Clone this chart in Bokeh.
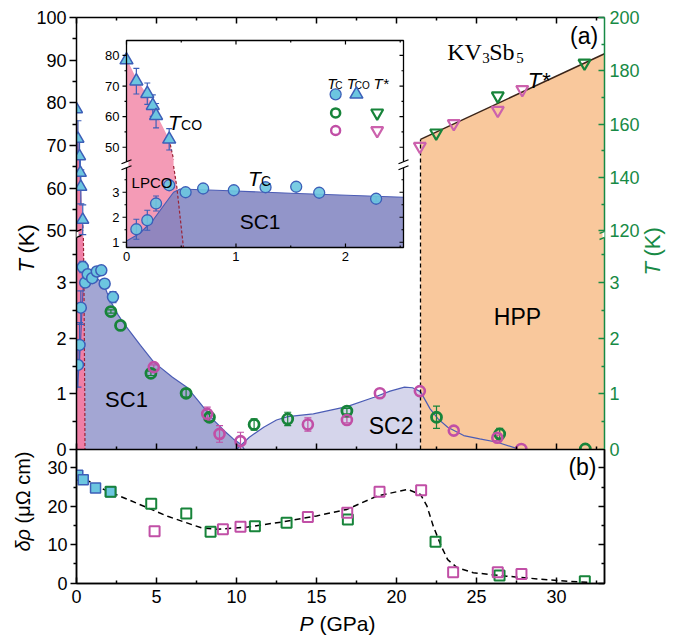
import numpy as np
from bokeh.plotting import figure
from bokeh.models import (Range1d, LinearAxis, FixedTicker, CustomJSTickFormatter,
                          CustomLabelingPolicy, Label, Arrow, Column)
from bokeh.core.properties import value
from bokeh.embed import file_html
from bokeh.resources import INLINE

FONT = "Liberation Sans"
SERIF = "Liberation Serif"

# ---------------- data ----------------
# Tc, sample 1 (cyan filled circles) - main panel and inset
P_TC1 = [0.09, 0.19, 0.27, 0.39, 0.54, 0.70, 0.98, 1.27, 1.55, 1.76, 2.28]
TC1 = [1.52, 1.88, 2.55, 3.28, 3.00, 3.15, 3.08, 3.20, 3.22, 2.98, 2.74]
TC1_ERR = [0.40, 0.40, 0.30, 0.10, 0, 0, 0, 0, 0, 0, 0.10]
# T_CO, sample 1 (cyan up-triangles)
P_TCO = [0.00, 0.09, 0.19, 0.24, 0.27, 0.39]
TCO = [78.5, 71.6, 67.5, 63.6, 60.3, 52.6]
TCO_ERR = [0, 4.2, 3.5, 3.5, 4.0, 3.5]
# Tc, sample 2 (green open circles)
P_TC2 = [2.15, 2.75, 4.65, 6.85, 8.31, 11.1, 13.2, 16.9, 22.5, 26.45, 31.8]
TC2 = [2.48, 2.23, 1.37, 1.01, 0.58, 0.45, 0.55, 0.69, 0.58, 0.28, 0.01]
TC2_ERR = [0.03, 0, 0.04, 0.07, 0.06, 0.10, 0.12, 0.05, 0.20, 0.10, 0]
# Tc, sample 3 (magenta open circles)
P_TC3 = [4.83, 8.17, 8.94, 10.25, 14.46, 16.9, 18.96, 21.46, 23.58, 26.3, 27.8]
TC3 = [1.48, 0.64, 0.28, 0.15, 0.45, 0.53, 1.01, 1.05, 0.34, 0.21, 0.01]
TC3_ERR = [0.04, 0.12, 0.15, 0.16, 0.12, 0.05, 0, 0, 0, 0.05, 0]
# T* (right axis), samples 2 and 3
P_TS2 = [22.48, 26.33, 31.75]
TS2 = [156.7, 170.6, 182.9]
P_TS3 = [21.46, 23.58, 26.33, 27.86]
TS3 = [151.7, 160.2, 165.2, 173.0]
P_TS_LINE = [21.5, 33.0]
TS_LINE = [154.3, 186.4]
P_HPP = 21.5
# phase boundaries (main panel)
SC1_P = [0.0, 0.12, 0.24, 0.35, 0.43, 0.50, 0.9, 1.4, 1.8, 2.1, 2.6, 3.0, 4.0, 4.83,
         6.0, 6.9, 7.6, 8.6, 9.3, 9.8, 10.25, 10.5]
SC1_T = [1.05, 1.35, 1.87, 2.53, 3.0, 3.13, 3.10, 3.05, 2.90, 2.68, 2.42, 2.25, 1.87, 1.57,
         1.30, 1.12, 0.88, 0.52, 0.32, 0.19, 0.10, 0.0]
SC2_P = [10.0, 10.8, 11.7, 12.5, 13.2, 14.8, 16.9, 18.6, 19.6, 20.5, 21.0, 21.5, 22.1,
         22.6, 23.2, 24.2, 25.2, 26.3, 27.5]
SC2_T = [0.0, 0.22, 0.40, 0.53, 0.59, 0.64, 0.77, 0.94, 1.05, 1.12, 1.11, 1.04, 0.73,
         0.55, 0.40, 0.25, 0.19, 0.13, 0.02]
LPCO_UP_P = [0.0, 0.09, 0.19, 0.27, 0.39, 0.43]
LPCO_UP_T = [79.0, 72.5, 67.0, 61.0, 52.5, 46.0]
LPCO_LOW_P = [0.43, 0.46, 0.49, 0.52, 0.53]
LPCO_LOW_T = [4.10, 3.20, 2.00, 0.80, 0.00]
# inset SC1 boundary
SC1I_P = [0.0, 0.12, 0.24, 0.35, 0.43, 0.49, 0.88, 1.5, 2.53]
SC1I_T = [1.05, 1.35, 1.87, 2.53, 3.00, 3.13, 3.07, 2.96, 2.80]
# panel (b): residual resistivity
P_DR1 = [0.08, 0.42, 1.19, 2.13]
DR1 = [28.1, 26.9, 24.8, 23.8]
P_DR2 = [2.13, 4.67, 6.86, 8.38, 11.15, 13.13, 16.96, 22.44, 26.44, 31.77]
DR2 = [23.8, 20.7, 18.1, 13.4, 14.8, 15.7, 16.6, 10.8, 2.0, 0.5]
P_DR3 = [4.88, 9.15, 10.25, 14.46, 16.92, 18.94, 21.54, 23.54, 26.33, 27.81]
DR3 = [13.5, 14.0, 14.7, 17.2, 18.3, 23.8, 24.2, 2.8, 2.8, 2.4]
GUIDE_P = [0.0, 1.7, 3.2, 5.7, 7.8, 8.8, 10.7, 12.8, 15.0, 16.9, 18.8, 20.7, 21.5, 21.9,
           22.3, 22.8, 23.2, 23.8, 24.8, 26.9, 28.8, 30.7, 32.1]
GUIDE_D = [28.3, 24.4, 21.8, 17.4, 14.4, 14.0, 14.6, 15.9, 17.5, 19.2, 22.7, 24.4, 23.1,
           20.1, 14.8, 9.6, 6.1, 4.0, 2.7, 1.8, 1.1, 0.5, 0.2]

# tick values
X_MAJOR = [0, 5, 10, 15, 20, 25, 30]
X_MINOR = [2.5, 7.5, 12.5, 17.5, 22.5, 27.5, 32.5]
T_LOW = [0, 1, 2, 3]
T_LOW_MINOR = [0.5, 1.5, 2.5, 3.5]
T_UP = [50, 60, 70, 80, 90, 100]
T_UP_MINOR = [55, 65, 75, 85, 95]
TS_UP = [120, 140, 160, 180, 200]
TS_UP_MINOR = [130, 150, 170, 190]
DR_MAJOR = [0, 10, 20, 30]
DR_MINOR = [5, 15, 25]
I_X = [0, 1, 2]
I_X_MINOR = [0.5, 1.5, 2.5]
I_T_LOW = [1, 2, 3]
I_T_LOW_MINOR = [1.5, 2.5, 3.5]
I_T_UP = [50, 60, 70, 80]
I_T_UP_MINOR = [45, 55, 65, 75]

# colours
CYAN, CYAN_EDGE = "#6cc6e0", "#3d5fb8"
GREEN = "#17843a"
MAGENTA = "#c14fa6"
MAG_TRI = "#cc62ad"
AX_GREEN = "#178a45"
C_SC1, C_SC2, C_HPP, C_PINK = "#a3a6d3", "#d5d5eb", "#f9c89c", "#f07fa6"
C_SC1_IN, C_PINK_IN = "#7f82c0", "#f49bb6"
C_LINE = "#4b5cb5"
C_TCO_LINE = "#9b2335"

# ---------------- layout constants (pixels) ----------------
W_PAGE, H_PAGE = 683, 637
FRAME_W, FRAME_HA, FRAME_HB = 528, 432, 134
B_LEFT, B_RIGHT, B_TOP = 76, 75, 17
OVERLAP = 10

# ---------------- broken-axis mappings ----------------
LOW_TOP = 3.80      # top of the lower (0-3.8 K) segment, main panel
U50 = 3.93          # position of 50 K on the main axis
K_UP = 0.0767       # units per K in the upper segment
U_TOP = U50 + 50 * K_UP
PX_U = FRAME_HA / U_TOP
PX_P = FRAME_W / 33.0


def um(T):
    T = np.asarray(T, dtype=float)
    return np.where(T < 20.0, T, U50 + (T - 50.0) * K_UP)


def us(Ts):
    return U50 + (np.asarray(Ts, dtype=float) - 120.0) * K_UP / 1.6


I_BOT, I_LOW_TOP, I_V50, I_K = 0.79, 4.05, 4.80, 0.1224
I_TOP = 9.07
I_XMAX = 2.53


def vi(T):
    T = np.asarray(T, dtype=float)
    return np.where(T < 20.0, T, I_V50 + (T - 50.0) * I_K)


def fmt(vals, labs):
    return CustomJSTickFormatter(
        args=dict(vals=[float(v) for v in vals], labs=[str(l) for l in labs]),
        code="for (let i = 0; i < vals.length; i++) { if (Math.abs(tick - vals[i]) < 1e-6) { return labs[i]; } } return '';")


def axis(ticks, minor, labels=None, color="black", fs="18px", t_in=0, t_out=6,
         m_in=0, m_out=3, standoff=4, lw=1.5):
    ax = LinearAxis(ticker=FixedTicker(ticks=[float(t) for t in ticks],
                                       minor_ticks=[float(t) for t in minor]))
    ax.axis_line_color = color
    ax.axis_line_width = lw
    ax.major_tick_line_color = color
    ax.minor_tick_line_color = color
    ax.major_tick_line_width = lw
    ax.minor_tick_line_width = lw
    ax.major_tick_in, ax.major_tick_out = t_in, t_out
    ax.minor_tick_in, ax.minor_tick_out = m_in, m_out
    ax.major_label_text_font = FONT
    ax.major_label_text_color = color
    if labels is not None:
        ax.formatter = fmt(ticks, labels)
        ax.major_label_text_font_size = fs
        ax.major_label_standoff = standoff
    else:
        ax.major_label_policy = CustomLabelingPolicy(code="")
        ax.major_label_text_font_size = "0px"
        ax.major_label_standoff = 0
    return ax


def lab(p, x, y, text, size, style="normal", color="black", font=FONT, align="left",
        baseline="alphabetic", angle=0.0, xoff=0):
    p.add_layout(Label(x=x, y=y, text=text, text_font=font, text_font_size=f"{size}px",
                       text_font_style=style, text_color=color, text_align=align,
                       text_baseline=baseline, angle=angle, x_offset=xoff))


def errbars(p, x, y, err, ymap, color, cap=7, lw=1.2):
    x = np.asarray(x, float)
    y = np.asarray(y, float)
    e = np.asarray(err, float)
    m = e > 0
    lo, hi = ymap(y[m] - e[m]), ymap(y[m] + e[m])
    p.segment(x0=x[m], y0=lo, x1=x[m], y1=hi, line_color=color, line_width=lw)
    p.scatter(x=np.r_[x[m], x[m]], y=np.r_[lo, hi], marker="dash", size=cap,
              line_color=color, line_width=lw)


def add_break(p, xc, yc, dx, rise, sep, color, lw=1.4):
    p.add_layout(Arrow(end=None, x_start=xc, y_start=yc - sep, x_end=xc, y_end=yc + sep,
                       line_color="white", line_width=4))
    for s in (-1, 1):
        p.add_layout(Arrow(end=None, x_start=xc - dx, y_start=yc + s * sep - rise,
                           x_end=xc + dx, y_end=yc + s * sep + rise,
                           line_color=color, line_width=lw))


# ======================= panel (a) =======================
p_a = figure(frame_width=FRAME_W, frame_height=FRAME_HA, x_range=Range1d(0, 33),
             y_range=Range1d(0, U_TOP), output_backend="svg", toolbar_location=None,
             x_axis_location=None, y_axis_location=None, title=None,
             min_border_left=B_LEFT, min_border_right=B_RIGHT, min_border_top=B_TOP,
             min_border_bottom=OVERLAP)
p_a.grid.visible = False
p_a.outline_line_color = None

left_ticks = list(T_LOW) + list(um(T_UP))
left_minor = list(T_LOW_MINOR) + list(um(T_UP_MINOR))
p_a.add_layout(axis(left_ticks, left_minor, labels=[str(t) for t in T_LOW + T_UP],
                    t_out=7, m_out=4, standoff=3), "left")
right_ticks = list(T_LOW) + list(us(TS_UP))
right_minor = list(T_LOW_MINOR) + list(us(TS_UP_MINOR))
p_a.add_layout(axis(right_ticks, right_minor, labels=[str(t) for t in T_LOW + TS_UP],
                    color=AX_GREEN, t_in=6, t_out=0, m_in=3, m_out=0, standoff=5), "right")
p_a.add_layout(axis(X_MAJOR, X_MINOR, t_in=6, t_out=0, m_in=3, m_out=0), "above")
p_a.add_layout(axis(X_MAJOR, X_MINOR, t_in=6, t_out=0, m_in=3, m_out=0), "below")

# fills
p_a.patch(SC1_P + [0.0], list(um(SC1_T)) + [0.0], fill_color=C_SC1, line_color=None)
sc2p = np.asarray(SC2_P)
sc2t = np.asarray(SC2_T)
keep = sc2p < P_HPP
t_edge = float(np.interp(P_HPP, sc2p, sc2t))
p_a.patch(list(sc2p[keep]) + [P_HPP, P_HPP], list(sc2t[keep]) + [t_edge, 0.0],
          fill_color=C_SC2, line_color=None)
p_a.patch([P_TS_LINE[0], P_TS_LINE[0], P_TS_LINE[1], P_TS_LINE[1]],
          [0.0, float(us(TS_LINE[0])), float(us(TS_LINE[1])), 0.0],
          fill_color=C_HPP, line_color=None)
up_p = np.asarray(LPCO_UP_P)
up_t = np.asarray(LPCO_UP_T)
p50 = float(np.interp(50.0, up_t[::-1], up_p[::-1]))
sel = up_t >= 50
low_p = np.asarray(LPCO_LOW_P)
low_t = np.minimum(np.asarray(LPCO_LOW_T), LOW_TOP)
p_a.patch([0.0] + list(up_p[sel]) + [p50] + list(low_p),
          [0.0] + list(um(up_t[sel])) + [U50] + list(low_t),
          fill_color=C_PINK, line_color=None)

# boundary lines
p_a.line(SC1_P, um(SC1_T), line_color=C_LINE, line_width=1.2)
p_a.line(SC2_P, SC2_T, line_color=C_LINE, line_width=1.2)
p_a.line(P_TS_LINE, us(TS_LINE), line_color="#3b2418", line_width=1.5)
p_a.line([P_HPP, P_HPP], [0.0, float(us(TS_LINE[0]))], line_color="black",
         line_width=1.3, line_dash="4 3")
p_a.line(list(up_p[-2:-1]) + [p50], list(um(up_t[-2:-1])) + [U50],
         line_color=C_TCO_LINE, line_width=1.2, line_dash="3 2")
p_a.line(low_p, low_t, line_color=C_TCO_LINE, line_width=1.2, line_dash="3 2")

# error bars
errbars(p_a, P_TC1, TC1, TC1_ERR, um, CYAN_EDGE)
errbars(p_a, P_TCO, TCO, TCO_ERR, um, CYAN_EDGE)
errbars(p_a, P_TC2, TC2, TC2_ERR, um, GREEN)
errbars(p_a, P_TC3, TC3, TC3_ERR, um, MAGENTA)

# markers
p_a.scatter(P_TC1, um(TC1), marker="circle", size=11, fill_color=CYAN,
            line_color=CYAN_EDGE, line_width=1.5)
p_a.scatter(P_TCO, um(TCO), marker="triangle", size=12, fill_color=CYAN,
            line_color=CYAN_EDGE, line_width=1.5)
p_a.scatter(P_TC2, um(TC2), marker="circle", size=10, fill_color=None,
            line_color=GREEN, line_width=2.8)
p_a.scatter(P_TC3, um(TC3), marker="circle", size=10, fill_color=None,
            line_color=MAGENTA, line_width=2.6)
p_a.scatter(P_TS2, us(TS2), marker="inverted_triangle", size=12, fill_color=None,
            line_color=GREEN, line_width=2.2)
p_a.scatter(P_TS3, us(TS3), marker="inverted_triangle", size=12, fill_color=None,
            line_color=MAG_TRI, line_width=2.2)

# axis breaks
add_break(p_a, 0.0, (LOW_TOP + U50) / 2, 0.31, 0.036, 0.054, "black")
add_break(p_a, 33.0, (LOW_TOP + U50) / 2, 0.31, 0.036, 0.054, AX_GREEN)

# texts panel (a)
lab(p_a, 23.17, 7.15, "KV", 24, font=SERIF)
lab(p_a, 23.17, 7.03, "3", 15, font=SERIF, xoff=35)
lab(p_a, 23.17, 7.15, "Sb", 24, font=SERIF, xoff=42)
lab(p_a, 23.17, 7.03, "5", 15, font=SERIF, xoff=69)
lab(p_a, 32.6, 7.43, "(a)", 23, align="right", baseline="middle")
lab(p_a, 28.2, 6.64, "T*", 22, style="italic")
lab(p_a, 27.56, 2.39, "HPP", 23, align="center", baseline="middle")
lab(p_a, 3.125, 0.90, "SC1", 22, align="center", baseline="middle")
lab(p_a, 19.66, 0.43, "SC2", 23, align="center", baseline="middle")

# ======================= inset (sub-coordinates inside panel a) =======================
IN_L, IN_R = (126 - B_LEFT) / PX_P, (403 - B_LEFT) / PX_P
IN_B, IN_T = (B_TOP + FRAME_HA - 247) / PX_U, (B_TOP + FRAME_HA - 40) / PX_U
ins = p_a.subplot(x_source=Range1d(0, I_XMAX), y_source=Range1d(I_BOT, I_TOP),
                  x_target=Range1d(IN_L, IN_R), y_target=Range1d(IN_B, IN_T))
IPX_X = (403 - 126) / I_XMAX
IPX_Y = (247 - 40) / (I_TOP - I_BOT)

ins.quad(left=[0.0], right=[I_XMAX], bottom=[I_BOT], top=[I_TOP], fill_color="white",
         line_color=None)
ilow_t = np.clip(np.asarray(LPCO_LOW_T), I_BOT, I_LOW_TOP)
ins.patch([0.0] + LPCO_UP_P + LPCO_LOW_P + [0.0],
          [float(vi(LPCO_UP_T[0]))] + list(vi(LPCO_UP_T)) + list(ilow_t) + [I_BOT],
          fill_color=C_PINK_IN, line_color=None)
ins.patch(SC1I_P + [SC1I_P[-1], 0.0], list(SC1I_T) + [I_BOT, I_BOT],
          fill_color=C_SC1_IN, fill_alpha=0.85, line_color=None)
ins.line(SC1I_P, SC1I_T, line_color=C_LINE, line_width=1.2)
ins.line(LPCO_UP_P[-2:], vi(LPCO_UP_T[-2:]), line_color=C_TCO_LINE, line_width=1.2,
         line_dash="3 2")
ins.line(LPCO_LOW_P, ilow_t, line_color=C_TCO_LINE, line_width=1.2, line_dash="3 2")
errbars(ins, P_TC1, TC1, TC1_ERR, vi, CYAN_EDGE, cap=6)
errbars(ins, P_TCO, TCO, TCO_ERR, vi, CYAN_EDGE, cap=6)
ins.scatter(P_TC1, vi(TC1), marker="circle", size=11, fill_color=CYAN,
            line_color=CYAN_EDGE, line_width=1.3, fill_alpha=0.9)
ins.scatter(P_TCO, vi(TCO), marker="triangle", size=13, fill_color=CYAN,
            line_color=CYAN_EDGE, line_width=1.5)

# inset frame and ticks
ins.quad(left=[0.0], right=[I_XMAX], bottom=[I_BOT], top=[I_TOP], fill_color=None,
         line_color="black", line_width=1.3)
i_left = list(I_T_LOW) + list(vi(I_T_UP))
i_left_minor = list(I_T_LOW_MINOR) + list(vi(I_T_UP_MINOR))
tl_x, tm_x = 4 / IPX_X, 2 / IPX_X
tl_y, tm_y = 4 / IPX_Y, 2 / IPX_Y
n1, n2 = len(i_left), len(i_left_minor)
ins.segment(x0=[-tl_x] * n1, y0=i_left, x1=[0.0] * n1, y1=i_left, line_color="black", line_width=1.2)
ins.segment(x0=[-tm_x] * n2, y0=i_left_minor, x1=[0.0] * n2, y1=i_left_minor, line_color="black", line_width=1.2)
ins.segment(x0=[I_XMAX - tl_x] * n1, y0=i_left, x1=[I_XMAX] * n1, y1=i_left, line_color="black", line_width=1.2)
ins.segment(x0=[I_XMAX - tm_x] * n2, y0=i_left_minor, x1=[I_XMAX] * n2, y1=i_left_minor, line_color="black", line_width=1.2)
n3, n4 = len(I_X), len(I_X_MINOR)
for yb, d in ((I_BOT, 1), (I_TOP, -1)):
    ins.segment(x0=I_X, y0=[yb] * n3, x1=I_X, y1=[yb + d * tl_y] * n3, line_color="black", line_width=1.2)
    ins.segment(x0=I_X_MINOR, y0=[yb] * n4, x1=I_X_MINOR, y1=[yb + d * tm_y] * n4, line_color="black", line_width=1.2)
ins.text(x=[0.0] * n1, y=i_left, text=[str(t) for t in I_T_LOW + I_T_UP], x_offset=-7,
         text_align="right", text_baseline="middle", text_font=value(FONT),
         text_font_size="13px", text_color="black")
ins.text(x=I_X, y=[I_BOT - 4 / IPX_Y] * n3, text=[str(t) for t in I_X],
         text_align="center", text_baseline="top", text_font=value(FONT),
         text_font_size="13px", text_color="black")
# inset axis breaks
for xb in (0.0, I_XMAX):
    ins.segment(x0=[xb], y0=[4.1 - 0.12], x1=[xb], y1=[4.1 + 0.12], line_color="white", line_width=4)
    ins.segment(x0=[xb - 5 / IPX_X] * 2, y0=[4.1 - 0.12 - 0.08, 4.1 + 0.12 - 0.08],
                x1=[xb + 5 / IPX_X] * 2, y1=[4.1 - 0.12 + 0.08, 4.1 + 0.12 + 0.08],
                line_color="black", line_width=1.3)


def itext(x, y, s, size, style="normal", align="left", baseline="alphabetic", xoff=0):
    ins.text(x=[x], y=[y], text=[s], text_font=value(FONT), text_font_size=f"{size}px",
             text_font_style=style, text_align=align, text_baseline=baseline,
             x_offset=xoff, text_color="black")


itext(0.38, 5.79, "T", 21, style="italic")
itext(0.38, 5.71, "CO", 14, xoff=13)
itext(1.11, 3.55, "T", 21, style="italic")
itext(1.11, 3.47, "C", 14, xoff=13)
itext(0.046, 3.39, "LPCO", 15)
itext(1.22, 1.83, "SC1", 21, align="center", baseline="middle")


def fx(f):
    return I_XMAX * f


def fy(f):
    return I_BOT + (I_TOP - I_BOT) * f


LEG_COLS = [fx(0.755), fx(0.83), fx(0.905)]
LEG_ROWS = [fy(0.74), fy(0.65), fy(0.565)]
itext(fx(0.725), fy(0.792), "T", 15, style="italic")
itext(fx(0.725), fy(0.784), "C", 10, xoff=8)
itext(fx(0.795), fy(0.792), "T", 15, style="italic")
itext(fx(0.795), fy(0.784), "CO", 10, xoff=8)
itext(fx(0.892), fy(0.792), "T*", 15, style="italic")
ins.scatter([LEG_COLS[0]], [LEG_ROWS[0]], marker="circle", size=11, fill_color=CYAN,
            line_color=CYAN_EDGE, line_width=1.3)
ins.scatter([LEG_COLS[1]], [LEG_ROWS[0]], marker="triangle", size=13, fill_color=CYAN,
            line_color=CYAN_EDGE, line_width=1.5)
ins.scatter([LEG_COLS[0]], [LEG_ROWS[1]], marker="circle", size=9, fill_color=None,
            line_color=GREEN, line_width=2.6)
ins.scatter([LEG_COLS[2]], [LEG_ROWS[1]], marker="inverted_triangle", size=12,
            fill_color=None, line_color=GREEN, line_width=2.2)
ins.scatter([LEG_COLS[0]], [LEG_ROWS[2]], marker="circle", size=9, fill_color=None,
            line_color=MAGENTA, line_width=2.4)
ins.scatter([LEG_COLS[2]], [LEG_ROWS[2]], marker="inverted_triangle", size=12,
            fill_color=None, line_color=MAG_TRI, line_width=2.2)

# ======================= panel (b) =======================
p_b = figure(frame_width=FRAME_W, frame_height=FRAME_HB, x_range=Range1d(0, 33),
             y_range=Range1d(-0.1, 34.8), output_backend="svg", toolbar_location=None,
             x_axis_location=None, y_axis_location=None, title=None,
             min_border_left=B_LEFT, min_border_right=B_RIGHT, min_border_top=0,
             min_border_bottom=53)
p_b.grid.visible = False
p_b.outline_line_color = "black"
p_b.outline_line_width = 1.5
p_b.border_fill_alpha = 0.0
p_b.background_fill_color = "white"
p_b.add_layout(axis(DR_MAJOR, DR_MINOR, labels=[str(t) for t in DR_MAJOR],
                    t_out=6, m_out=3, standoff=3), "left")
p_b.add_layout(axis(DR_MAJOR, DR_MINOR, t_in=6, t_out=0, m_in=3, m_out=0), "right")
p_b.add_layout(axis(X_MAJOR, X_MINOR, labels=[str(t) for t in X_MAJOR],
                    t_in=6, t_out=0, m_in=3, m_out=0, standoff=6), "below")

p_b.line(GUIDE_P, GUIDE_D, line_color="black", line_width=1.5, line_dash="6 4")
p_b.scatter(P_DR1, DR1, marker="square", size=10, fill_color=CYAN, line_color=CYAN_EDGE,
            line_width=1.5)
p_b.scatter(P_DR2, DR2, marker="square", size=10, fill_color=None, line_color=GREEN,
            line_width=2.0)
p_b.scatter(P_DR3, DR3, marker="square", size=10, fill_color=None, line_color=MAGENTA,
            line_width=2.0)
lab(p_b, 32.5, 30.16, "(b)", 23, align="right", baseline="middle")
p_b.styles = {"margin-top": f"-{OVERLAP}px"}

# ======================= overlay for axis titles (page pixels, separate root) =======================
p_ov = figure(width=W_PAGE, height=H_PAGE, x_range=Range1d(0, W_PAGE),
              y_range=Range1d(H_PAGE, 0), output_backend="svg", toolbar_location=None,
              x_axis_location=None, y_axis_location=None, title=None, min_border=0)
p_ov.grid.visible = False
p_ov.outline_line_color = None
p_ov.background_fill_alpha = 0.0
p_ov.border_fill_alpha = 0.0
lab(p_ov, 26, 272, "T", 22, style="italic", baseline="middle", angle=np.pi / 2)
lab(p_ov, 26, 253, "(K)", 22, baseline="middle", angle=np.pi / 2)
lab(p_ov, 652, 275, "T", 22, style="italic", baseline="middle", angle=np.pi / 2,
    color=AX_GREEN)
lab(p_ov, 652, 256, "(K)", 22, baseline="middle", angle=np.pi / 2, color=AX_GREEN)
lab(p_ov, 22, 551, "δρ", 20, style="italic", baseline="middle", angle=np.pi / 2)
lab(p_ov, 22, 523, "(μΩ cm)", 20, baseline="middle", angle=np.pi / 2)
lab(p_ov, 299, 623, "P", 21, style="italic")
lab(p_ov, 319, 623, "(GPa)", 21)
p_ov.styles = {"position": "absolute", "left": "0px", "top": "0px",
               "pointer-events": "none"}

page = Column(children=[p_a, p_b], spacing=0)

open("out.html", "w").write(file_html([page, p_ov], INLINE))
